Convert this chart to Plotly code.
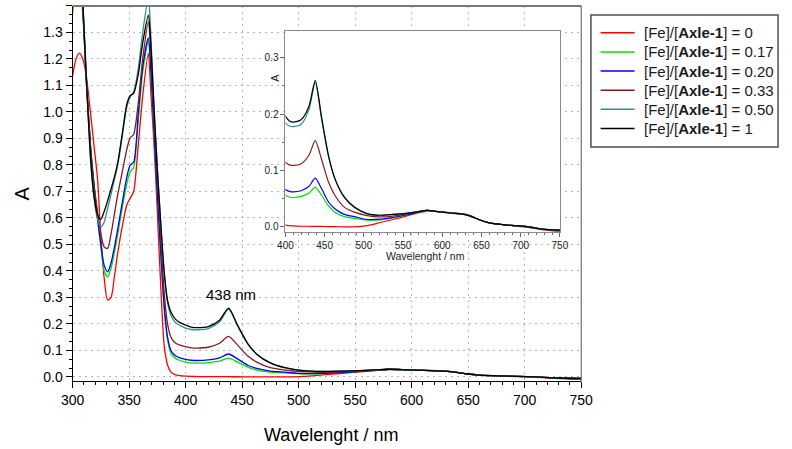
import plotly.graph_objects as go

# ---------------- data ----------------
wavelength = [300, 303, 306, 309, 312, 316, 319, 322, 325, 328, 331, 334, 337, 340, 344,
              348, 351, 354, 358, 362, 367, 369, 372, 375, 378, 381, 384, 387, 391, 395,
              400, 405, 410, 420, 430, 438, 446, 455, 463, 475, 488, 504, 521, 537, 554,
              570, 580, 595, 611, 628, 636, 648, 660, 677, 694, 710, 727, 750]

a_0 = [1.135, 1.20, 1.222, 1.20, 1.14, 0.99, 0.87, 0.75, 0.53, 0.37, 0.29, 0.30, 0.38, 0.47, 0.57,
       0.65, 0.675, 0.70, 0.87, 1.06, 1.222, 1.09, 0.88, 0.62, 0.34, 0.12, 0.045, 0.018, 0.008, 0.005,
       0.003, 0.002, 0.0015, 0.001, 0.001, 0.0008, 0.0006, 0.0004, 0.0002, 0.0, 0.0, 0.002, 0.0076, 0.013, 0.019,
       0.025, 0.028, 0.027, 0.025, 0.023, 0.020, 0.012, 0.007, 0.004, 0.001, -0.001, -0.005, -0.008]

a_017 = [1.37, 1.46, 1.47, 1.37, 1.13, 0.87, 0.73, 0.61, 0.49, 0.40, 0.377, 0.41, 0.47, 0.54, 0.64,
         0.73, 0.775, 0.79, 0.96, 1.15, 1.27, 1.17, 0.92, 0.68, 0.46, 0.26, 0.14, 0.09, 0.07, 0.062,
         0.056, 0.053, 0.052, 0.054, 0.060, 0.0706, 0.056, 0.037, 0.026, 0.018, 0.015, 0.012, 0.0124, 0.016, 0.021,
         0.026, 0.029, 0.027, 0.0245, 0.022, 0.019, 0.012, 0.007, 0.004, 0.002, 0.0, -0.004, -0.006]

a_020 = [1.80, 1.68, 1.55, 1.39, 1.13, 0.86, 0.72, 0.60, 0.50, 0.42, 0.397, 0.43, 0.49, 0.56, 0.66,
         0.755, 0.80, 0.81, 0.99, 1.17, 1.28, 1.18, 0.93, 0.69, 0.47, 0.27, 0.15, 0.10, 0.08, 0.072,
         0.066, 0.063, 0.062, 0.064, 0.072, 0.0865, 0.068, 0.044, 0.032, 0.022, 0.018, 0.013, 0.0135, 0.0165, 0.021,
         0.026, 0.029, 0.027, 0.0245, 0.022, 0.019, 0.012, 0.007, 0.004, 0.002, 0.0, -0.004, -0.006]

a_033 = [1.90, 1.75, 1.58, 1.40, 1.13, 0.86, 0.72, 0.625, 0.54, 0.49, 0.485, 0.54, 0.615, 0.69, 0.775,
         0.86, 0.903, 0.915, 1.03, 1.20, 1.34, 1.24, 0.98, 0.75, 0.53, 0.32, 0.20, 0.15, 0.128, 0.12,
         0.114, 0.11, 0.109, 0.112, 0.127, 0.153, 0.12, 0.079, 0.056, 0.035, 0.026, 0.020, 0.0175, 0.019, 0.023,
         0.027, 0.029, 0.027, 0.0245, 0.022, 0.019, 0.012, 0.007, 0.004, 0.002, 0.0, -0.004, -0.006]

a_050 = [1.95, 1.80, 1.62, 1.42, 1.14, 0.81, 0.675, 0.595, 0.566, 0.585, 0.635, 0.69, 0.745, 0.80, 0.91,
         1.02, 1.058, 1.075, 1.16, 1.30, 1.43, 1.31, 1.02, 0.79, 0.58, 0.39, 0.28, 0.232, 0.206, 0.194,
         0.184, 0.179, 0.178, 0.182, 0.208, 0.256, 0.192, 0.124, 0.085, 0.052, 0.034, 0.0235, 0.0205, 0.022, 0.024,
         0.027, 0.029, 0.027, 0.0245, 0.022, 0.019, 0.012, 0.007, 0.004, 0.002, 0.0, -0.004, -0.006]

a_1 = [1.95, 1.80, 1.62, 1.42, 1.14, 0.82, 0.68, 0.612, 0.595, 0.625, 0.665, 0.71, 0.755, 0.81, 0.92,
       1.03, 1.062, 1.07, 1.14, 1.26, 1.365, 1.27, 1.02, 0.78, 0.58, 0.40, 0.29, 0.245, 0.218, 0.205,
       0.196, 0.188, 0.186, 0.19, 0.214, 0.26, 0.195, 0.126, 0.086, 0.053, 0.035, 0.0235, 0.0205, 0.022, 0.024,
       0.027, 0.029, 0.027, 0.0245, 0.022, 0.019, 0.012, 0.007, 0.004, 0.002, 0.0, -0.004, -0.006]

series_names = ["[Fe]/[<b>Axle-1</b>] = 0", "[Fe]/[<b>Axle-1</b>] = 0.17", "[Fe]/[<b>Axle-1</b>] = 0.20",
                "[Fe]/[<b>Axle-1</b>] = 0.33", "[Fe]/[<b>Axle-1</b>] = 0.50", "[Fe]/[<b>Axle-1</b>] = 1"]
series_values = [a_0, a_017, a_020, a_033, a_050, a_1]
series_colors = ["#ff0000", "#00e000", "#0000ff", "#821c1c", "#2a9090", "#000000"]

x_ticks_main = [300, 350, 400, 450, 500, 550, 600, 650, 700, 750]
peak_label = "438 nm"
peak_label_pos = (440, 0.31)

FONT = "Arial, Liberation Sans, sans-serif"
W, H = 792, 449

fig = go.Figure()

# main traces
for name, vals, col in zip(series_names, series_values, series_colors):
    fig.add_trace(go.Scatter(x=wavelength, y=vals, mode="lines", name=name,
                             line=dict(color=col, width=1.3, shape="spline", smoothing=0.7),
                             xaxis="x", yaxis="y", showlegend=False, hoverinfo="skip"))
# inset traces
for name, vals, col in zip(series_names, series_values, series_colors):
    fig.add_trace(go.Scatter(x=wavelength, y=vals, mode="lines", name=name,
                             line=dict(color=col, width=1.2, shape="spline", smoothing=0.7),
                             xaxis="x2", yaxis="y2", showlegend=False, hoverinfo="skip"))

main_x_dom = [62.5 / W, 587 / W]
main_y_dom = [1 - 384 / H, 1 - 6 / H]
ins_x_dom = [282 / W, 565 / W]
ins_y_dom = [1 - 234 / H, 1 - 31 / H]

shapes = [
    dict(type="line", xref="x domain", yref="y domain", x0=0, x1=1, y0=1, y1=1,
         line=dict(color="#777", width=2)),
    dict(type="line", xref="x domain", yref="y domain", x0=1, x1=1, y0=0, y1=1,
         line=dict(color="#555", width=1)),
    # legend box
    dict(type="rect", xref="paper", yref="paper", x0=597 / W, x1=790 / W, y0=1 - 148 / H, y1=1 - 15 / H,
         line=dict(color="#505050", width=1.5), fillcolor="white", layer="above"),
]

annotations = [
    dict(text="A", xref="paper", yref="paper", x=10 / W, y=1 - 195 / H, showarrow=False,
         textangle=-90, font=dict(size=20, family=FONT), xanchor="center", yanchor="middle"),
    dict(text="Wavelenght / nm", xref="paper", yref="paper", x=329 / W, y=1 - 438 / H, showarrow=False,
         font=dict(size=18, family=FONT), xanchor="center", yanchor="middle"),
    dict(text=peak_label, xref="x", yref="y", x=peak_label_pos[0], y=peak_label_pos[1], showarrow=False,
         font=dict(size=15, family=FONT), xanchor="center", yanchor="middle"),
    dict(text="A", xref="paper", yref="paper", x=271.5 / W, y=1 - 78 / H, showarrow=False,
         textangle=-90, font=dict(size=11, family=FONT, color="#222"), xanchor="center", yanchor="middle"),
    dict(text="Wavelenght / nm", xref="paper", yref="paper", x=426 / W, y=1 - 258 / H, showarrow=False,
         font=dict(size=10.5, family=FONT, color="#222"), xanchor="center", yanchor="middle"),
]

# legend (drawn as line samples + text entries)
leg_y0, leg_step = 33, 19.25
for i, (name, col) in enumerate(zip(series_names, series_colors)):
    yy = 1 - (leg_y0 + i * leg_step) / H
    shapes.append(dict(type="line", xref="paper", yref="paper", x0=607 / W, x1=642 / W, y0=yy, y1=yy,
                       line=dict(color=col, width=1.5), layer="above"))
    annotations.append(dict(text=name, xref="paper", yref="paper", x=650 / W, y=yy, showarrow=False,
                            xanchor="left", yanchor="middle",
                            font=dict(size=15, family=FONT, color="#1a1a1a")))

fig.update_layout(
    width=W, height=H, autosize=False,
    margin=dict(l=0, r=0, t=0, b=0, pad=0),
    paper_bgcolor="white", plot_bgcolor="white",
    font=dict(family=FONT, color="#000000"),
    showlegend=False,
    xaxis=dict(domain=main_x_dom, range=[300, 750], tickvals=x_ticks_main,
               ticks="outside", ticklen=6, tickwidth=1, tickcolor="#000",
               minor=dict(dtick=10, tick0=300, ticks="outside", ticklen=3, tickcolor="#000", showgrid=False),
               showgrid=True, gridcolor="#b4b4b4", griddash="2px,4px", gridwidth=1,
               showline=True, linecolor="#000", linewidth=1, zeroline=False,
               tickfont=dict(size=14, family=FONT)),
    yaxis=dict(domain=main_y_dom, range=[-0.017, 1.4001], dtick=0.1, tick0=0, tickformat=".1f",
               ticks="outside", ticklen=6, tickwidth=1, tickcolor="#000",
               minor=dict(dtick=0.1 / 3, tick0=0, ticks="outside", ticklen=3, tickcolor="#000", showgrid=False),
               showgrid=True, gridcolor="#b4b4b4", griddash="2px,4px", gridwidth=1,
               showline=True, linecolor="#000", linewidth=1, zeroline=False,
               tickfont=dict(size=14, family=FONT)),
    xaxis2=dict(domain=ins_x_dom, anchor="y2", range=[400, 750], dtick=50, tick0=400,
                ticks="outside", ticklen=4, tickwidth=1, tickcolor="#666",
                minor=dict(dtick=10, tick0=400, ticks="outside", ticklen=2, tickcolor="#666", showgrid=False),
                showgrid=False, showline=True, mirror=True, linecolor="#8a8a8a", linewidth=1, zeroline=False,
                tickfont=dict(size=10, family=FONT, color="#222")),
    yaxis2=dict(domain=ins_y_dom, anchor="x2", range=[-0.010, 0.348], dtick=0.1, tick0=0, tickformat=".1f",
                ticks="outside", ticklen=4, tickwidth=1, tickcolor="#666",
                minor=dict(dtick=0.05, tick0=0, ticks="outside", ticklen=2, tickcolor="#666", showgrid=False),
                showgrid=False, showline=True, mirror=True, linecolor="#8a8a8a", linewidth=1, zeroline=False,
                tickfont=dict(size=10, family=FONT, color="#222")),
    shapes=shapes,
    annotations=annotations,
)

fig.write_html("out.html")
